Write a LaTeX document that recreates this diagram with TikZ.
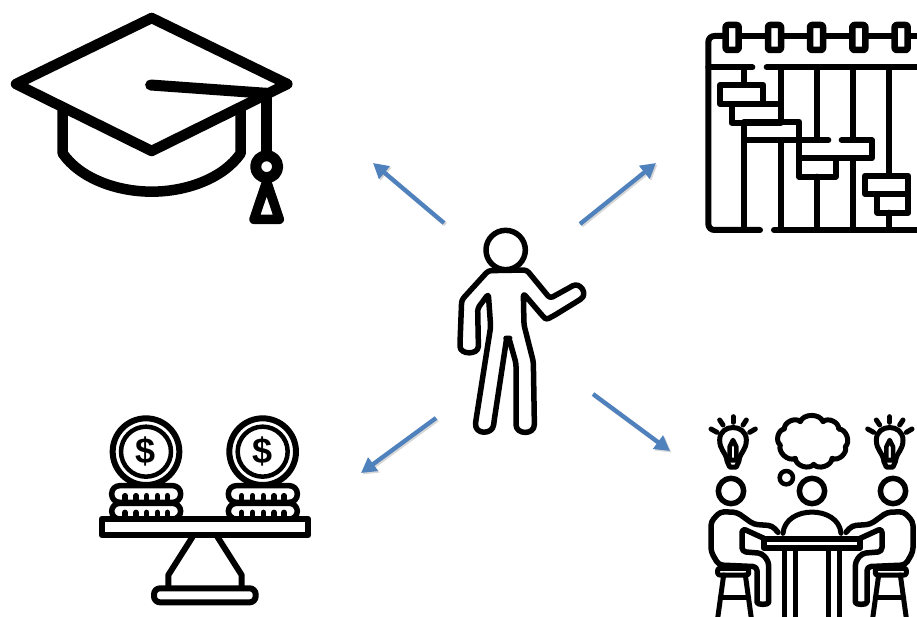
\documentclass[tikz,border=0pt]{standalone}
\usepackage{fontspec}
\setmainfont{Liberation Sans}
\usetikzlibrary{arrows.meta}
\definecolor{arrowblue}{HTML}{4F81BD}
\tikzset{
  icon/.style={draw=black, line width=#1, line join=round, line cap=round},
  icon/.default=6pt,
  pointer/.style={-{Triangle[length=15pt,width=16pt]}, line width=4.3pt, draw=arrowblue, fill=arrowblue},
  pointershadow/.style={pointer, draw=black!45, fill=black!45, opacity=0.35, transform canvas={xshift=1.5pt,yshift=-1.5pt}},
  bulb/.pic={
    \draw[icon=5pt] (42,72) -- (60,82);
    \draw[icon=5pt] (68,45) -- (78,60);
    \draw[icon=5pt] (108,35) -- (108,52);
    \draw[icon=5pt] (148,45) -- (138,60);
    \draw[icon=5pt] (175,72) -- (158,82);
    \draw[icon=5pt] (90,165) .. controls (85,140) and (68,135) .. (68,105) .. controls (68,55) and (148,55) .. (148,105) .. controls (148,135) and (131,140) .. (126,165) -- cycle;
    \draw[icon=4.5pt] (98,165) -- (98,125) -- (108,105) -- (118,125) -- (118,165);
    \draw[icon=5pt] (90,168) -- (98,186) -- (118,186) -- (126,168);
  },
  sitter/.pic={
    \draw[icon=5.5pt] (102,258) circle (38);
    \draw[icon=5.5pt, rounded corners=4pt] (205,402) -- (135,370) -- (135,440) -- (195,445) -- (215,470) -- (215,580) .. controls (215,600) and (180,600) .. (180,580) -- (180,485) -- (65,480) -- (42,440) -- (42,350) -- (70,320) -- (120,322) -- (170,358) -- (225,362) -- (243,382);
    \draw[icon=5pt, rounded corners=2pt] (62,490) rectangle (155,510);
    \draw[icon=5pt] (80,510) -- (62,640);
    \draw[icon=5pt] (145,510) -- (163,640);
    \draw[icon=5pt] (70,578) -- (155,578);
  },
  coinpile/.pic={
    \draw[icon=6pt] (168,140) circle (100);
    \draw[icon=4.5pt] (168,140) circle (75);
    \node[font=\bfseries\fontsize{108}{108}\selectfont] (dollar) at (168,140) {\$};
    \draw[icon=5.5pt, rounded corners=8pt] (65,242) rectangle (272,292);
    \draw[icon=5.5pt, rounded corners=8pt] (65,295) rectangle (272,342);
    \draw[icon=5.5pt] (105,272) -- (105,290);
    \draw[icon=5.5pt] (138,272) -- (138,290);
    \draw[icon=5.5pt] (170,272) -- (170,290);
    \draw[icon=5.5pt] (202,272) -- (202,290);
    \draw[icon=5.5pt] (232,272) -- (232,290);
    \draw[icon=5.5pt] (105,322) -- (105,340);
    \draw[icon=5.5pt] (138,322) -- (138,340);
    \draw[icon=5.5pt] (170,322) -- (170,340);
    \draw[icon=5.5pt] (202,322) -- (202,340);
    \draw[icon=5.5pt] (232,322) -- (232,340);
  },
  ringbox/.pic={
    \draw[icon=6.5pt, fill=white, rounded corners=2pt] (107,45) rectangle (146,120);
  },
}
\begin{document}
\begin{tikzpicture}[x=1pt, y=-1pt]
\useasboundingbox (0,0) rectangle (917,617);
\clip (0,0) rectangle (917,617);
% graduation cap
\begin{scope}[shift={(0,0)}, scale=1/3]
\draw[icon=10.5pt] (455,54) -- (48,252) -- (455,453) -- (862,252) -- cycle;
\draw[icon=10.5pt] (188,330) -- (188,460) .. controls (240,535) and (350,575) .. (455,575) .. controls (560,575) and (670,535) .. (722,460) -- (722,330);
\draw[icon=11pt] (452,255) -- (800,280);
\draw[icon=11pt] (800,280) -- (800,460);
\draw[icon=11pt] (800,500) circle (33);
\draw[icon=9.5pt] (800,545) -- (762,658) -- (838,658) -- cycle;
\end{scope}
% calendar
\begin{scope}[shift={(690,10)}, scale=1/3]
\draw[icon=6pt, rounded corners=6pt] (210,660) -- (55,660) -- (55,78) -- (100,78);
\draw[icon=6pt] (100,78) -- (700,78);
\draw[icon=6pt] (55,172) -- (187,172);
\draw[icon=6pt] (230,172) -- (700,172);
\draw[icon=6pt] (252,660) -- (700,660);
\pic[transform shape] (ring1) at (0,0) {ringbox};
\pic[transform shape] (ring2) at (127,0) {ringbox};
\pic[transform shape] (ring3) at (253,0) {ringbox};
\pic[transform shape] (ring4) at (380,0) {ringbox};
\pic[transform shape] (ring5) at (507,0) {ringbox};
\draw[icon=6pt] (163,172) -- (163,225);
\draw[icon=6pt] (163,340) -- (163,660);
\draw[icon=6pt] (272,172) -- (272,282);
\draw[icon=6pt] (272,395) -- (272,660);
\draw[icon=6pt] (380,172) -- (380,390);
\draw[icon=6pt] (380,500) -- (380,660);
\draw[icon=6pt] (490,172) -- (490,390);
\draw[icon=6pt] (490,445) -- (490,660);
\draw[icon=6pt] (598,172) -- (598,497);
\draw[icon=6pt] (598,608) -- (598,660);
\draw[icon=6pt] (90,225) rectangle (220,282);
\draw[icon=6pt] (125,282) rectangle (272,338);
\draw[icon=6pt] (415,390) -- (163,390) -- (163,335) -- (327,335) -- (327,390);
\draw[icon=6pt] (455,390) -- (545,390) -- (545,445) -- (327,445) -- (327,390);
\draw[icon=6pt] (327,445) rectangle (437,500);
\draw[icon=6pt] (525,497) rectangle (655,552);
\draw[icon=6pt] (562,552) rectangle (655,608);
\end{scope}
% person
\begin{scope}[shift={(350,150)}, scale=1/3]
\draw[icon=5.5pt] (467,300) circle (59);
\draw[icon=5.5pt, rounded corners=3pt] (415,362) -- (335,450) -- (330,580) .. controls (330,615) and (385,615) .. (385,580) -- (383,475) -- (415,432) -- (422,530) -- (378,810) .. controls (372,855) and (428,855) .. (432,815) -- (470,565) -- (477,565) -- (498,640) -- (498,815) .. controls (498,855) and (553,855) .. (553,815) -- (550,635) -- (522,525) -- (520,430) -- (578,498) .. controls (590,510) and (600,503) .. (610,498) -- (685,452) .. controls (715,432) and (690,395) .. (660,412) -- (600,445) -- (530,360) -- cycle;
\end{scope}
% coins on a balance
\begin{scope}[shift={(90,405)}, scale=1/3]
\pic[transform shape] (pileleft) at (0,0) {coinpile};
\pic[transform shape] (pileright) at (350,0) {coinpile};
\draw[icon=6pt] (35,342) rectangle (655,390);
\draw[icon=6pt] (308,395) -- (235,510) -- (235,548);
\draw[icon=6pt] (382,395) -- (455,510) -- (455,548);
\draw[icon=6pt, rounded corners=6pt] (192,550) rectangle (497,592);
\end{scope}
% team at a table
\begin{scope}[shift={(697,405)}, scale=1/3]
\pic[transform shape] (bulbleft) at (0,0) {bulb};
\pic[transform shape] (bulbright) at (470,0) {bulb};
\draw[icon=5pt] (262,72) to[bend left=70] (310,50) to[bend left=70] (378,50) to[bend left=70] (425,72) to[bend left=70] (445,125) to[bend left=70] (405,160) to[bend left=70] (350,178) to[bend left=70] (295,160) to[bend left=70] (250,120) to[bend left=70] cycle;
\draw[icon=4.5pt] (268,218) circle (20);
\draw[icon=5.5pt] (345,258) circle (38);
\pic[transform shape] (sitterleft) at (0,0) {sitter};
\begin{scope}[shift={(690,0)}, xscale=-1]
\pic[transform shape] (sitterright) at (0,0) {sitter};
\end{scope}
\draw[icon=5pt] (258,385) .. controls (265,300) and (425,300) .. (432,385);
\draw[icon=6pt] (200,402) rectangle (490,428);
\draw[icon=5pt] (262,430) -- (262,640);
\draw[icon=5pt] (295,430) -- (295,640);
\draw[icon=5pt] (395,430) -- (395,640);
\draw[icon=5pt] (428,430) -- (428,640);
\end{scope}
% arrows
\coordinate (fromgrad) at (444,223);
\coordinate (grad) at (373,163);
\coordinate (fromplan) at (580,224);
\coordinate (plan) at (656,163);
\coordinate (fromcoins) at (436,418);
\coordinate (coins) at (361,473);
\coordinate (fromteam) at (593,394);
\coordinate (team) at (670,451);
\draw [pointershadow] (fromgrad) -- (grad);
\draw [pointershadow] (fromplan) -- (plan);
\draw [pointershadow] (fromcoins) -- (coins);
\draw [pointershadow] (fromteam) -- (team);
\draw [pointer] (fromgrad) -- (grad);
\draw [pointer] (fromplan) -- (plan);
\draw [pointer] (fromcoins) -- (coins);
\draw [pointer] (fromteam) -- (team);
\end{tikzpicture}
\end{document}
